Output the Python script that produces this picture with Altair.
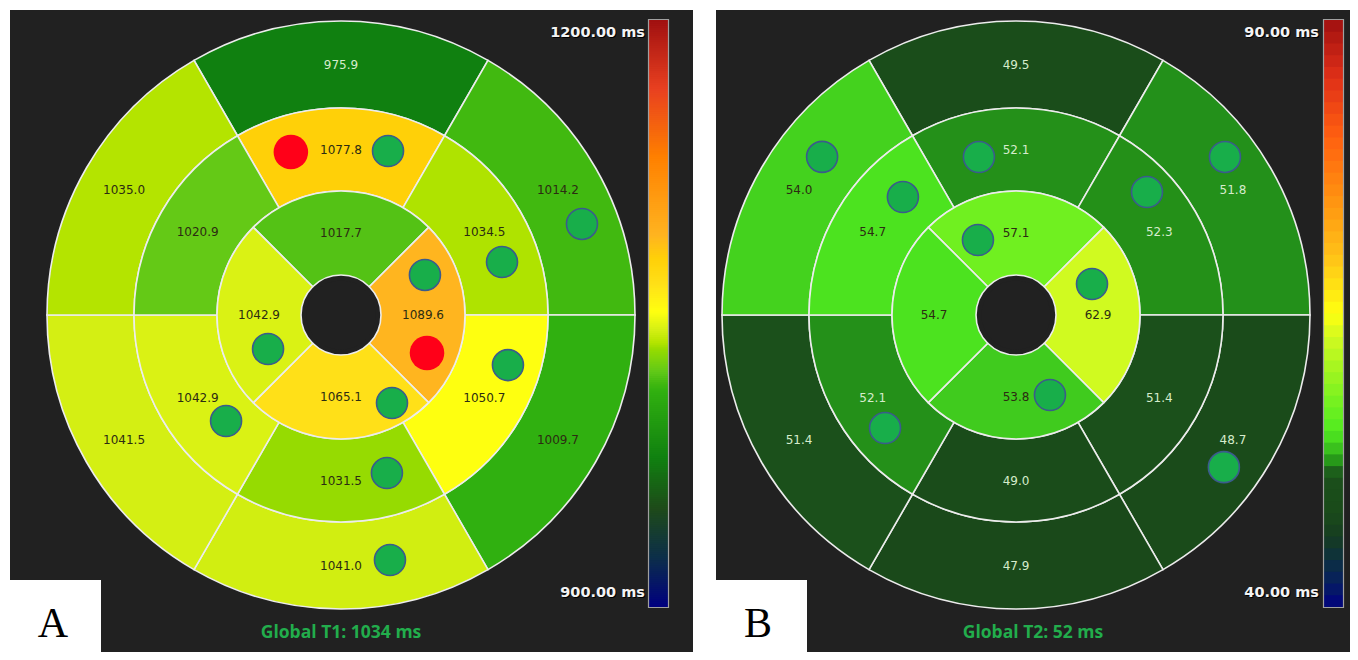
import math
import altair as alt
import pandas as pd

W, H = 1342, 644
OFF = 8  # page margin

# ---------------- data ----------------
# ring order: top, upper-right, lower-right, bottom, lower-left, upper-left
T1_OUTER = [975.9, 1014.2, 1009.7, 1041.0, 1041.5, 1035.0]
T1_MIDDLE = [1077.8, 1034.5, 1050.7, 1031.5, 1042.9, 1020.9]
T1_INNER = [1017.7, 1089.6, 1065.1, 1042.9]  # top, right, bottom, left
T2_OUTER = [49.5, 51.8, 48.7, 47.9, 51.4, 54.0]
T2_MIDDLE = [52.1, 52.3, 51.4, 49.0, 52.1, 54.7]
T2_INNER = [57.1, 62.9, 53.8, 54.7]

T1_RANGE = [900, 1200]
T2_RANGE = [40, 90]
T1_GLOBAL = "Global T1: 1034 ms"
T2_GLOBAL = "Global T2: 52 ms"

# markers: polar position (deg ccw from east, px from centre)
T1_GREEN_ANG = [74.0, 20.7, 18.2, 25.5, 205.0, -16.7, -59.9, 222.7, -73.8, -78.7]
T1_GREEN_R = [170.6, 257.6, 169.5, 93.0, 80.5, 174.3, 101.7, 156.4, 164.6, 249.9]
T1_RED_ANG = [107.1, -23.8]
T1_RED_R = [170.5, 94.0]
T2_GREEN_ANG = [140.8, 103.2, 37.1, 133.8, 43.2, 116.9, 22.2, -67.0, 220.8, -36.2]
T2_GREEN_R = [250.2, 162.3, 262.0, 163.4, 179.7, 84.1, 82.1, 86.9, 173.0, 257.6]

# colour maps
T1_STOPS = [900, 925, 950, 976, 1010, 1014, 1020, 1032, 1035, 1042, 1051, 1065,
            1078, 1090, 1130, 1165, 1200]
T1_COLORS = ["#000080", "#0c2e4a", "#1e4a1a", "#108010", "#30b010", "#40b810",
             "#60c818", "#98dc00", "#b4e400", "#d6f014", "#ffff10", "#ffe018",
             "#ffd008", "#ffb420", "#ff8000", "#e84020", "#a01010"]
T2_STOPS = [40, 42, 44, 46, 48, 51.4, 51.8, 52.3, 53, 54, 55, 57, 60, 63, 65,
            70, 75, 80, 85, 90]
T2_COLORS = ["#000080", "#061e60", "#0c3040", "#163c20", "#1a4a1a", "#1b501b",
             "#23901a", "#249018", "#30b01c", "#44d21e", "#50ea20", "#6ef020",
             "#a0f520", "#d2fa20", "#ffff10", "#ffc018", "#ff9010", "#ff6010",
             "#e03018", "#a01010"]

# ---------------- layout ----------------
BG = "#212121"
R_HOLE, R_IN, R_MID, R_OUT = 40, 124, 207, 294
SIX = [90, 30, -30, -90, -150, 150]
FOUR = [90, 0, -90, 180]
CENTER_A = (341 - OFF, 315 - OFF)
CENTER_B = (1016 - OFF, 315 - OFF)


def segments(outer, middle, inner, center):
    cx, cy = center
    rows = []
    for ring, vals, angs, span, r0, r1 in [
        ("outer", outer, SIX, 30, R_MID, R_OUT),
        ("middle", middle, SIX, 30, R_IN, R_MID),
        ("inner", inner, FOUR, 45, R_HOLE, R_IN),
    ]:
        rl = (r0 + r1) / 2
        for v, phi in zip(vals, angs):
            start = ((90 - phi - span) % 360)
            rows.append(dict(
                v=v, t0=math.radians(start), t1=math.radians(start + 2 * span),
                r0=r0, r1=r1,
                lx=cx + rl * math.cos(math.radians(phi)),
                ly=cy - rl * math.sin(math.radians(phi)),
            ))
    return pd.DataFrame(rows)


def markers(angs, rads, center):
    cx, cy = center
    return pd.DataFrame(dict(
        px=[cx + r * math.cos(math.radians(a)) for a, r in zip(angs, rads)],
        py=[cy - r * math.sin(math.radians(a)) for a, r in zip(angs, rads)],
    ))


def colorbar_df(lo, hi, step, overlap):
    n = int(round((hi - lo) / step))
    v0 = [lo + i * step for i in range(n)]
    return pd.DataFrame(dict(v0=v0, v1=[min(hi, v + step * overlap) for v in v0],
                             vm=[v + step / 2 for v in v0]))


one = pd.DataFrame({"k": [0]})


def rect(x0, x1, y0, y1, **kw):
    return alt.Chart(one).mark_rect(**kw).encode(
        x=alt.value(x0 - OFF), x2=alt.value(x1 - OFF),
        y=alt.value(y0 - OFF), y2=alt.value(y1 - OFF))


def text(s, x, y, **kw):
    return alt.Chart(one).mark_text(**kw).encode(
        x=alt.value(x - OFF), y=alt.value(y - OFF), text=alt.value(s))


def panel(outer, middle, inner, center, stops, colors, rng, thr,
          greens, reds, bar_x, label_right, global_text, global_x, letter,
          panel_x0, panel_x1, letter_x, step, overlap):
    seg = segments(outer, middle, inner, center)
    cscale = alt.Scale(domain=stops, range=colors, interpolate="rgb")
    layers = []
    layers.append(rect(panel_x0, panel_x1, 10, H + OFF, color=BG))
    layers.append(alt.Chart(seg).mark_arc(stroke="#ececec", strokeWidth=1.6).encode(
        x=alt.value(center[0]), y=alt.value(center[1]),
        theta=alt.Theta("t0:Q", scale=None, stack=None),
        theta2=alt.Theta2("t1:Q"),
        radius=alt.Radius("r1:Q", scale=None),
        radius2=alt.Radius2("r0:Q"),
        color=alt.Color("v:Q", scale=cscale, legend=None),
    ))
    layers.append(alt.Chart(one).mark_point(
        shape="circle", size=math.pi * (R_HOLE - 1) ** 2, fill=BG, fillOpacity=1,
        strokeWidth=0).encode(
        x=alt.value(center[0]), y=alt.value(center[1])))
    layers.append(alt.Chart(seg).mark_text(font="DejaVu Sans", fontSize=12).encode(
        x=alt.X("lx:Q", scale=None), y=alt.Y("ly:Q", scale=None),
        text=alt.Text("v:Q", format=".1f"),
        color=alt.condition(f"datum.v < {thr}", alt.value("#d6eccc"), alt.value("#2c2c12")),
    ))
    if greens is not None:
        layers.append(alt.Chart(greens).mark_point(
            shape="circle", size=962, fill="#18ae4a", fillOpacity=1,
            stroke="#3b5b8c", strokeWidth=1.6, strokeOpacity=1).encode(
            x=alt.X("px:Q", scale=None), y=alt.Y("py:Q", scale=None)))
    if reds is not None:
        layers.append(alt.Chart(reds).mark_point(
            shape="circle", size=1195, fill="#ff0018", fillOpacity=1,
            strokeWidth=0).encode(
            x=alt.X("px:Q", scale=None), y=alt.Y("py:Q", scale=None)))
    # colour bar
    cb = colorbar_df(rng[0], rng[1], step, overlap)
    layers.append(alt.Chart(cb).mark_rect().encode(
        x=alt.value(bar_x - OFF), x2=alt.value(bar_x + 19 - OFF),
        y=alt.Y("v0:Q", scale=alt.Scale(domain=rng, range=[607 - OFF, 20 - OFF]), axis=None),
        y2=alt.Y2("v1:Q"),
        color=alt.Color("vm:Q", scale=cscale, legend=None),
    ))
    layers.append(rect(bar_x - 0.5, bar_x + 19.5, 19.5, 607.5,
                       fill=None, fillOpacity=0, stroke="#a0a0a0", strokeWidth=1.2))
    for val, yy in [(rng[1], 33), (rng[0], 593)]:
        s = f"{val:.2f} ms"
        layers.append(text(s, label_right + 1, yy + 1, align="right", baseline="middle",
                           font="DejaVu Sans", fontWeight="bold", fontSize=14.5, color="#000000"))
        layers.append(text(s, label_right, yy, align="right", baseline="middle",
                           font="DejaVu Sans", fontWeight="bold", fontSize=14.5, color="#f4f4f4"))
    layers.append(text(global_text, global_x, 633, align="center", baseline="middle",
                       font="Open Sans", fontWeight="bold", fontSize=17.5, color="#22ad4c"))
    layers.append(rect(panel_x0, panel_x0 + 91, 580, H + OFF, color="white"))
    layers.append(text(letter, letter_x, 624, align="center", baseline="middle",
                       font="Liberation Serif", fontSize=42, color="black"))
    return layers


layers_a = panel(T1_OUTER, T1_MIDDLE, T1_INNER, CENTER_A, T1_STOPS, T1_COLORS,
                 T1_RANGE, 1000,
                 markers(T1_GREEN_ANG, T1_GREEN_R, CENTER_A),
                 markers(T1_RED_ANG, T1_RED_R, CENTER_A),
                 649, 645, T1_GLOBAL, 341, "A", 10, 693, 53, 1, 1.8)
layers_b = panel(T2_OUTER, T2_MIDDLE, T2_INNER, CENTER_B, T2_STOPS, T2_COLORS,
                 T2_RANGE, 53,
                 markers(T2_GREEN_ANG, T2_GREEN_R, CENTER_B),
                 None,
                 1324, 1319, T2_GLOBAL, 1033, "B", 716, W + OFF, 758, 1, 1.15)

chart = alt.layer(*layers_a, *layers_b).resolve_scale(
    color="independent", y="independent", x="independent"
).properties(width=W, height=H, padding=0, background="white").configure_view(stroke=None)

chart.save("out.html", embed_options={"renderer": "svg", "actions": False})
